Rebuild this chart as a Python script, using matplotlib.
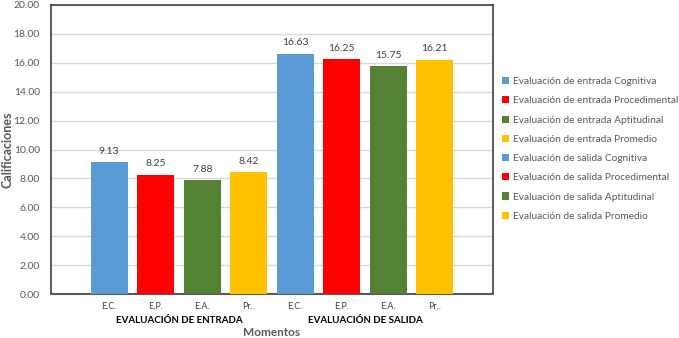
import numpy as np
import matplotlib.pyplot as plt

plt.rcParams['font.family'] = ['Lato', 'DejaVu Sans']

# --- data ---
groups = ["EVALUACIÓN DE ENTRADA", "EVALUACIÓN DE SALIDA"]
ticks = ["E.C.", "E.P.", "E.A.", "Pr..", "E.C.", "E.P.", "E.A.", "Pr.."]
series = ["Evaluación de entrada Cognitiva",
          "Evaluación de entrada Procedimental",
          "Evaluación de entrada Aptitudinal",
          "Evaluación de entrada Promedio",
          "Evaluación de salida Cognitiva",
          "Evaluación de salida Procedimental",
          "Evaluación de salida Aptitudinal",
          "Evaluación de salida Promedio"]
values = [9.13, 8.25, 7.88, 8.42, 16.63, 16.25, 15.75, 16.21]
colors = ["#5B9BD5", "#FF0000", "#548235", "#FFC000"] * 2

gray = "#595959"

fig = plt.figure(figsize=(6.79, 3.38), dpi=100)
ax = fig.add_axes([51/679, 1 - 294/338, 442/679, 289/338])

x = np.arange(len(values))
for i, (v, c, lab) in enumerate(zip(values, colors, series)):
    ax.bar(x[i], v, width=0.8, color=c, label=lab, zorder=3)
    ax.text(x[i], v + 0.45, f"{v:.2f}", ha="center", va="bottom",
            fontsize=7.5, color="#404040")

ax.set_xlim(-1.25, 8.25)
ax.set_ylim(0, 20)
ax.set_yticks(np.arange(0, 20.1, 2))
ax.set_yticklabels([f"{t:.2f}" for t in np.arange(0, 20.1, 2)])
ax.set_xticks(x)
ax.set_xticklabels(ticks)
ax.tick_params(axis="y", length=0, labelsize=7.5, labelcolor=gray, pad=8)
ax.tick_params(axis="x", length=0, labelsize=6.5, labelcolor="#404040", pad=6)
ax.grid(axis="y", color="#D9D9D9", linewidth=1, zorder=0)

for s in ["left", "top", "right"]:
    ax.spines[s].set_color("#404040")
    ax.spines[s].set_linewidth(1.2)
ax.spines["bottom"].set_color("#595959")
ax.spines["bottom"].set_linewidth(1.5)

# group labels
for g, lab in enumerate(groups):
    ax.text(g * 4 + 1.5, -0.075, lab, transform=ax.get_xaxis_transform(),
            ha="center", va="top", fontsize=7, fontweight="bold", color="#000000")

fig.text(272/679, 1 - 333/338, "Momentos", ha="center", va="center",
         fontsize=8.5, fontweight="bold", color=gray)
fig.text(8/679, 1 - 150/338, "Calificaciones", ha="center", va="center",
         rotation=90, fontsize=9, fontweight="bold", color=gray)

leg = fig.legend(loc="upper left", bbox_to_anchor=(498/679, 1 - 73/338),
                 frameon=False, fontsize=7.3, labelcolor=gray,
                 handlelength=0.7, handleheight=0.7, handletextpad=0.4,
                 labelspacing=1.0, borderaxespad=0)

fig.savefig("out.png", dpi=100)
